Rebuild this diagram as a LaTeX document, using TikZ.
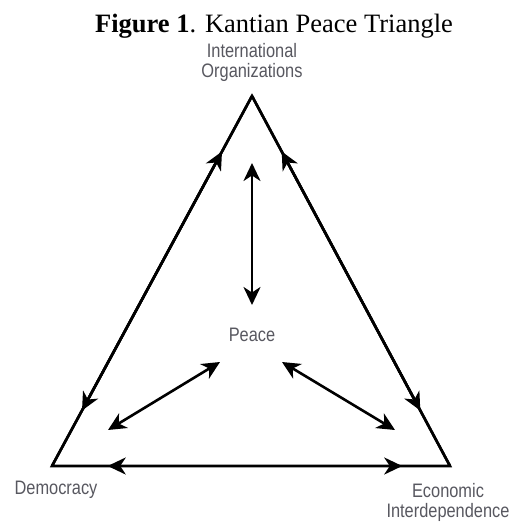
\documentclass[tikz,border=0pt]{standalone}
\usepackage{fontspec}
\setmainfont{Liberation Serif}
\newfontfamily\labelfont[FakeStretch=0.84]{Liberation Sans}
\usetikzlibrary{arrows.meta,calc}
\definecolor{labelgray}{RGB}{88,88,96}
\begin{document}
\begin{tikzpicture}[x=1pt,y=-1pt,
  tip/.tip={Stealth[length=18pt,width=17pt,inset=5.5pt]},
  side/.style={line width=2.6pt,line join=miter},
  conn/.style={line width=2.6pt,-tip},
  dconn/.style={line width=2.6pt,tip-tip},
  lbl/.style={font=\labelfont\fontsize{19.5}{20}\selectfont,text=labelgray,align=center,inner sep=0pt}]
\fill[white] (0,0) rectangle (511,525);
\useasboundingbox (0,0) rectangle (511,525);
% title
\node[font=\fontsize{26.5}{30}\selectfont,anchor=base,inner sep=0pt] (title) at (274,32) {\textbf{Figure 1}. Kantian Peace Triangle};
% vertices
\coordinate (O) at (252,96);
\coordinate (D) at (52,466);
\coordinate (E) at (450,466);
\draw[side] (O) -- (D) -- (E) -- cycle;
\draw[conn] (D) -- ($(D)!0.85!(O)$);
\draw[conn] (O) -- ($(O)!0.85!(D)$);
\draw[conn] (E) -- ($(E)!0.85!(O)$);
\draw[conn] (O) -- ($(O)!0.85!(E)$);
\draw[conn] (D) -- ($(D)!0.88!(E)$);
\draw[conn] (E) -- ($(E)!0.86!(D)$);
% interior
\coordinate (vt) at (252,163);
\coordinate (vb) at (252,305);
\coordinate (lt) at (220,362);
\coordinate (lb) at (108,430);
\coordinate (rt) at (282,362);
\coordinate (rb) at (395,430);
\draw[dconn] (vt) -- (vb);
\draw[dconn] (lt) -- (lb);
\draw[dconn] (rt) -- (rb);
% labels
\node[lbl] (io) at (252,62) {International\\Organizations};
\node[lbl] (peace) at (252,335) {Peace};
\node[lbl] (dem) at (56,490) {Democracy};
\node[lbl] (eco) at (448,502) {Economic\\Interdependence};
\end{tikzpicture}
\end{document}
